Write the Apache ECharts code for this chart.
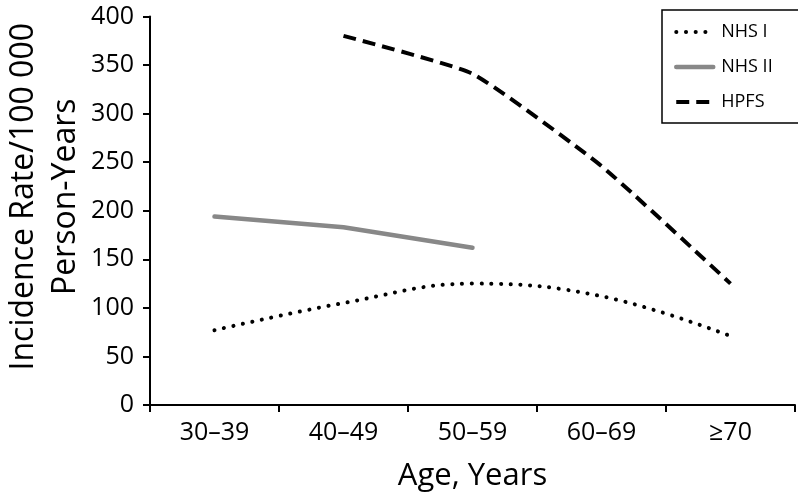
<!DOCTYPE html>
<html>
<head>
<meta charset="utf-8">
<script src="https://cdn.jsdelivr.net/npm/echarts@6/dist/echarts.min.js"></script>
<style>
html,body{margin:0;padding:0;background:#fff;}
#c{width:798px;height:494px;}
</style>
</head>
<body>
<div id="c"></div>
<script>
const categories = ['30–39', '40–49', '50–59', '60–69', '≥70'];
const nhs1 = [77, 105, 125, 112, 71];
const nhs2 = [194, 183, 162, null, null];
const hpfs = [null, 380, 341, 246, 125];
const yTicks = { min: 0, max: 400, interval: 50 };

const FONT = 'Open Sans';
const dotStyle = { color: '#000', width: 4, type: [0.1, 9.6], cap: 'round' };
const solidStyle = { color: '#888', width: 4.5, type: 'solid', cap: 'round' };
const dashStyle = { color: '#000', width: 4, type: [13, 7] };

const chart = echarts.init(document.getElementById('c'), null, { renderer: 'canvas' });
chart.setOption({
  animation: false,
  backgroundColor: '#fff',
  textStyle: { fontFamily: FONT, color: '#000' },
  grid: { left: 150, right: 3, top: 16.5, bottom: 89, containLabel: false, outerBoundsMode: 'none' },
  legend: {
    orient: 'vertical',
    left: 662, top: 10,
    padding: [12, 27, 11, 12],
    borderColor: '#000', borderWidth: 1.5,
    itemWidth: 37, itemHeight: 14, itemGap: 15,
    itemStyle: { opacity: 0, borderWidth: 0 },
    textStyle: { fontFamily: FONT, fontSize: 18, lineHeight: 20, color: '#000', padding: [0, 0, 0, 3] },
    data: [
      { name: 'NHS I', lineStyle: { width: 4, type: [0.1, 9.6], cap: 'round', color: '#000' } },
      { name: 'NHS II', lineStyle: { width: 4.5, type: 'solid', color: '#888' } },
      { name: 'HPFS', lineStyle: { width: 4, type: [13, 7], color: '#000' } }
    ]
  },
  xAxis: {
    type: 'category',
    data: categories,
    boundaryGap: true,
    name: 'Age, Years',
    nameLocation: 'middle',
    nameGap: 56,
    nameMoveOverlap: false,
    nameTextStyle: { fontFamily: FONT, fontSize: 31, color: '#000' },
    axisLine: { lineStyle: { color: '#000', width: 2 } },
    axisTick: { show: true, inside: false, length: 7, alignWithLabel: false, lineStyle: { color: '#000', width: 2 } },
    axisLabel: { fontFamily: FONT, fontSize: 25, color: '#000', margin: 15 },
    splitLine: { show: false }
  },
  yAxis: {
    type: 'value',
    min: yTicks.min, max: yTicks.max, interval: yTicks.interval,
    name: 'Incidence Rate/100 000\nPerson-Years',
    nameLocation: 'middle',
    nameGap: 63,
    nameRotate: 90,
    nameMoveOverlap: false,
    nameTextStyle: { fontFamily: FONT, fontSize: 32, color: '#000', lineHeight: 42, padding: [0, 0, 0, 28] },
    axisLine: { show: true, lineStyle: { color: '#000', width: 2 } },
    axisTick: { show: true, inside: false, length: 7, lineStyle: { color: '#000', width: 2 } },
    axisLabel: { fontFamily: FONT, fontSize: 25, color: '#000', margin: 16 },
    splitLine: { show: false }
  },
  series: [
    { name: 'NHS I', type: 'line', data: nhs1, symbol: 'none', smooth: 0.4, lineStyle: dotStyle, itemStyle: { color: '#000' } },
    { name: 'NHS II', type: 'line', data: nhs2, symbol: 'none', smooth: false, lineStyle: solidStyle, itemStyle: { color: '#888' } },
    { name: 'HPFS', type: 'line', data: hpfs, symbol: 'none', smooth: 0.15, lineStyle: dashStyle, itemStyle: { color: '#000' } }
  ]
});
</script>
</body>
</html>
